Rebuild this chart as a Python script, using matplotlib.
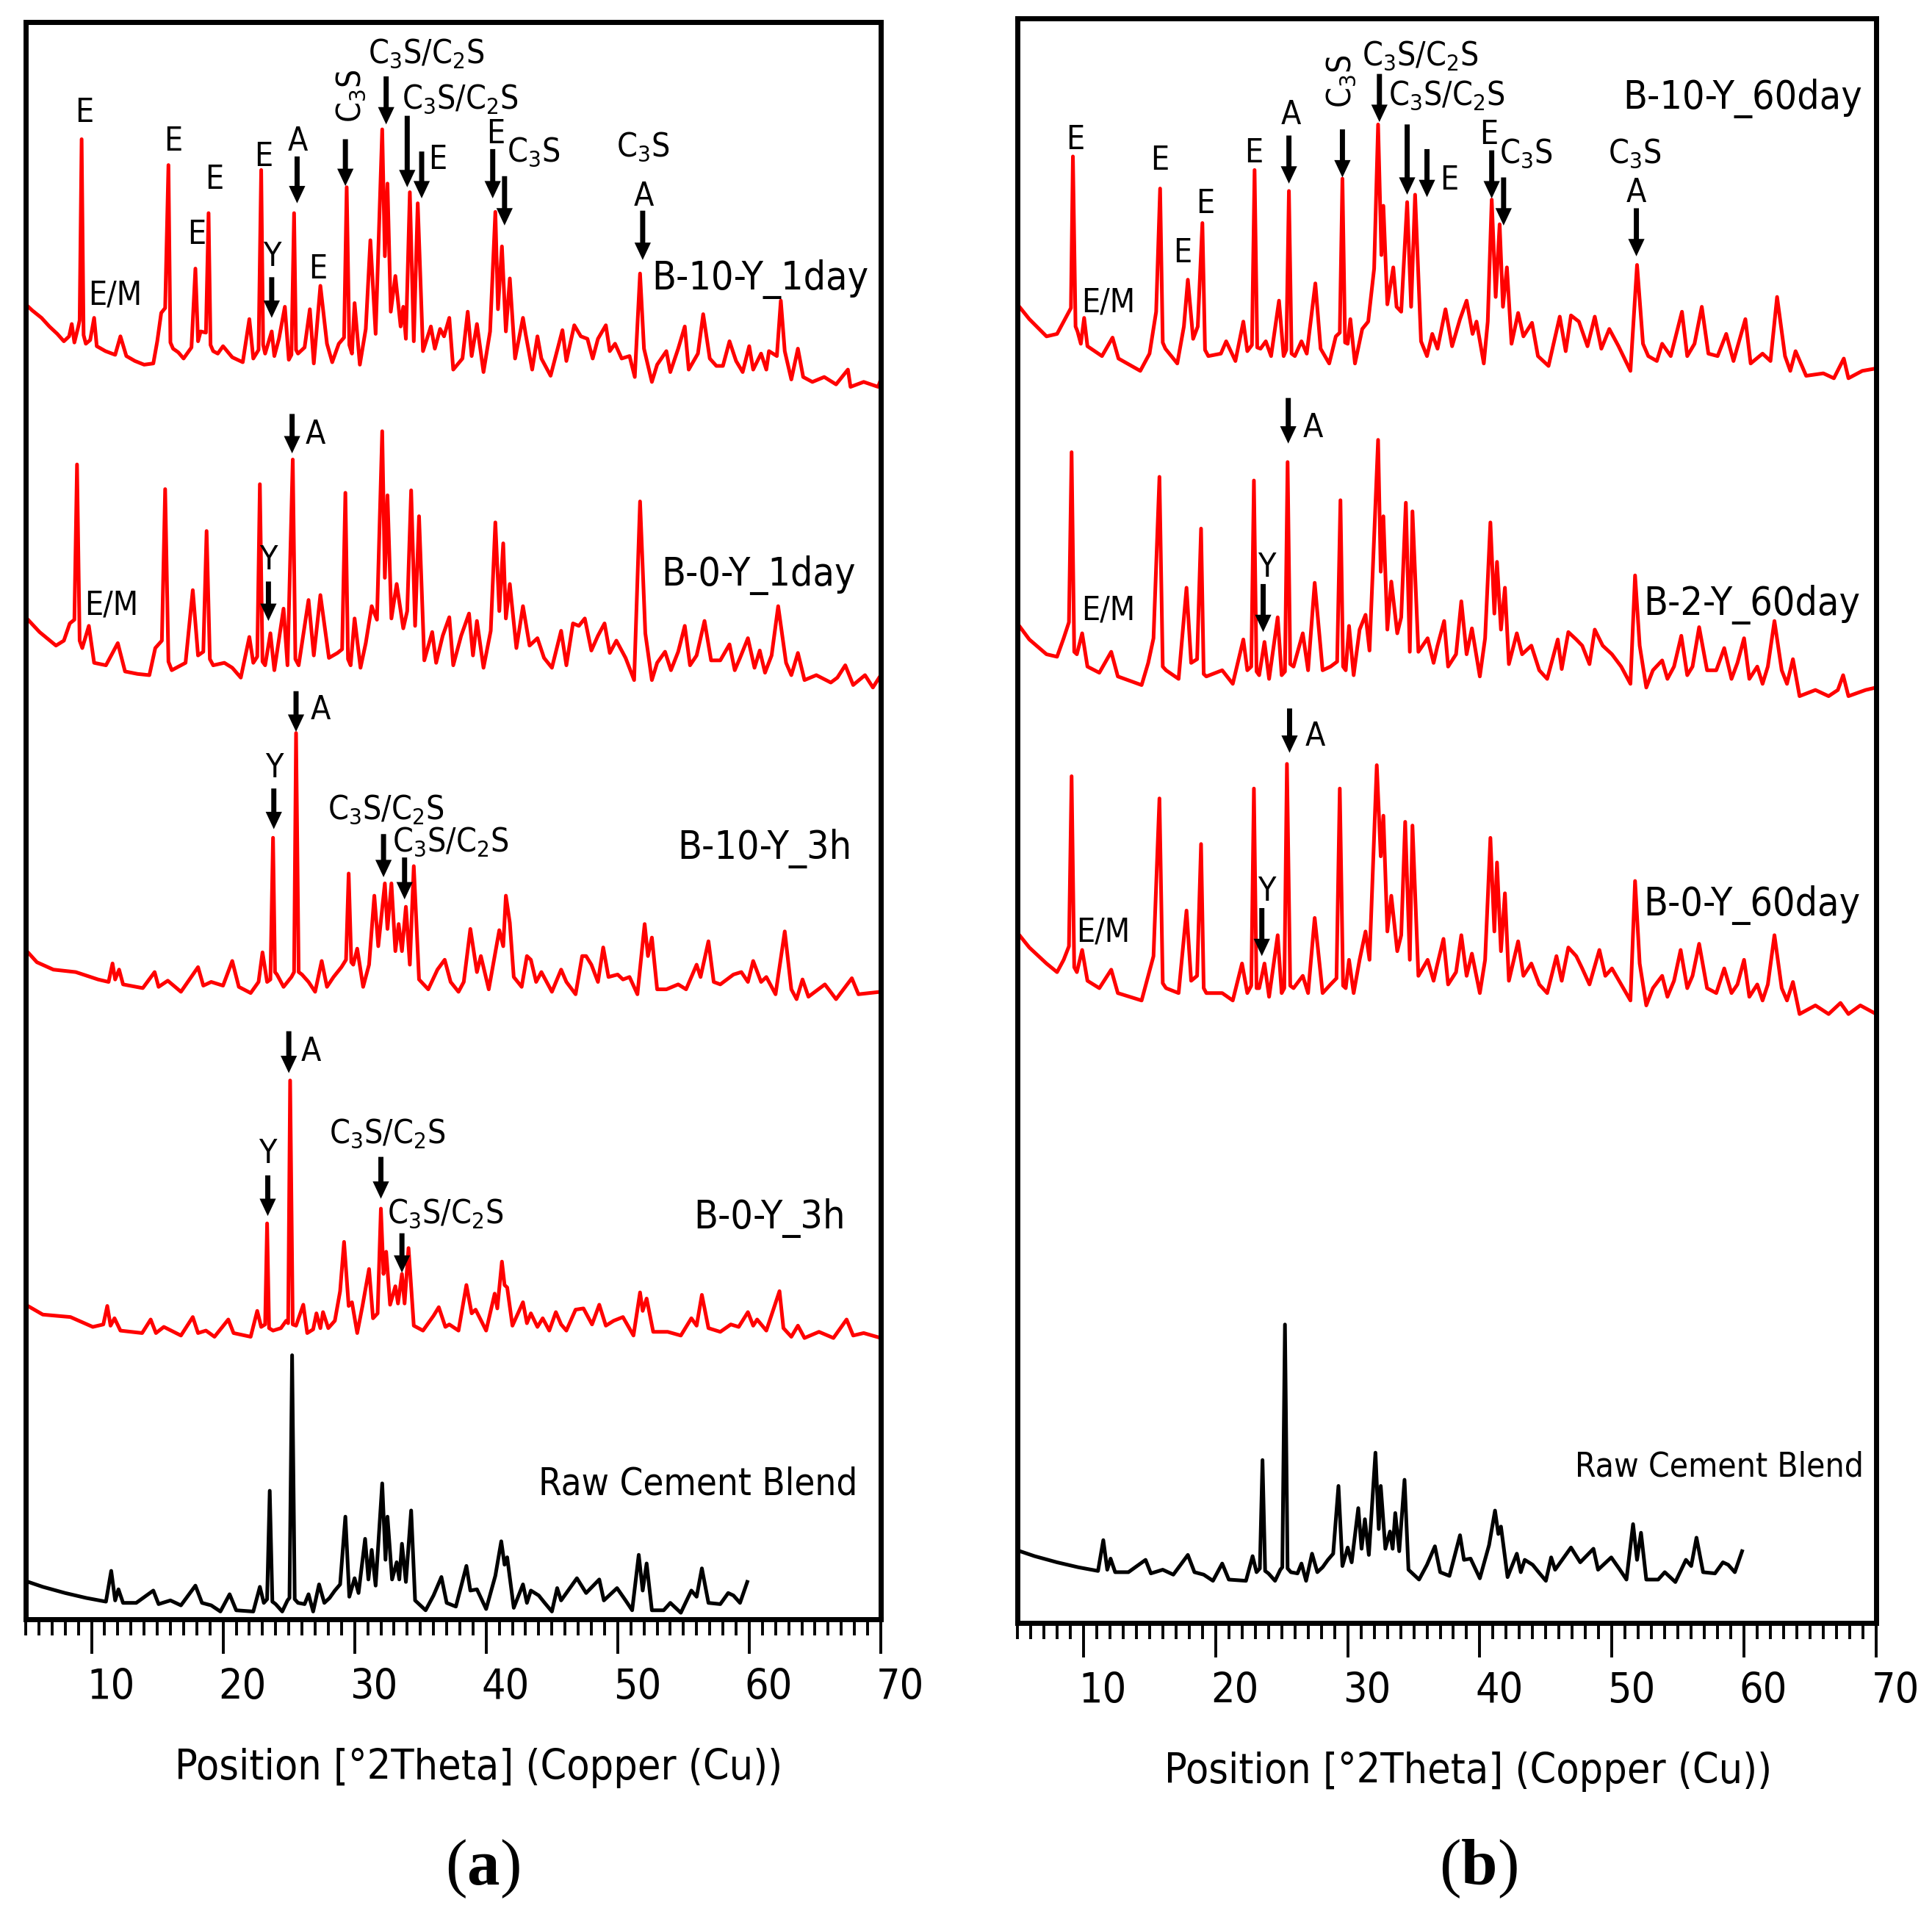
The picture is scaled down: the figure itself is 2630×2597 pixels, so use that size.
import numpy as np
import matplotlib.pyplot as plt
from matplotlib import font_manager

# Fonts -----------------------------------------------------------------------------
has_cond = any(f.name == 'DejaVu Sans' and 'condensed' in str(f.stretch)
               for f in font_manager.fontManager.ttflist)
if has_cond:
    plt.rcParams['font.family'] = 'DejaVu Sans'
    plt.rcParams['font.stretch'] = 'condensed'
    math_rm = 'DejaVu Sans:stretch=condensed'
else:
    plt.rcParams['font.family'] = 'Liberation Sans'
    math_rm = 'Liberation Sans'
plt.rcParams['mathtext.fontset'] = 'custom'
plt.rcParams['mathtext.rm'] = math_rm
plt.rcParams['mathtext.it'] = math_rm
plt.rcParams['mathtext.bf'] = 'Liberation Serif:bold'

# Data: (2theta, intensity) ------------------------------------------------------------
a1 = [(5.0,73),(5.5,68),(6.2,62),(6.8,55),(7.4,49),(7.9,43),(8.3,47),(8.5,57),(8.7,42),(9.0,55),(9.1,60),
      (9.25,207),(9.4,48),(9.57,41),(9.9,44),(10.2,62),(10.4,39),(11.06,35),(11.8,32),(12.2,47),(12.65,31),
      (13.3,27),(14.0,24),(14.7,25),(15.0,43),(15.3,66),(15.6,70),(15.85,186),(16.0,42),(16.2,37),(16.6,34),
      (17.0,29),(17.6,38),(17.9,102),(18.1,43),(18.3,51),(18.7,50),(18.9,147),(19.05,40),(19.25,35),(19.6,33),
      (20.0,39),(20.7,30),(21.5,26),(22.0,61),(22.3,29),(22.7,36),(22.9,182),(23.05,40),(23.2,33),(23.7,51),
      (23.9,31),(24.25,45),(24.7,71),(25.0,28),(25.2,32),(25.4,147),(25.55,36),(25.7,33),(26.2,38),(26.6,69),
      (26.9,25),(27.4,88),(27.9,41),(28.3,26),(28.8,41),(29.2,46),(29.4,168),(29.6,40),(29.8,33),(30.0,74),
      (30.4,24),(30.85,53),(31.2,125),(31.6,49),(32.1,215),(32.3,112),(32.5,171),(32.75,67),(33.1,96),
      (33.5,55),(33.7,71),(33.9,45),(34.2,164),(34.5,43),(34.8,155),(35.2,35),(35.8,55),(36.1,37),(36.5,53),
      (36.8,47),(37.2,62),(37.5,20),(38.2,29),(38.6,67),(38.9,31),(39.3,57),(39.8,18),(40.3,51),(40.7,148),
      (40.9,69),(41.2,120),(41.5,51),(41.8,94),(42.2,29),(42.8,62),(43.0,49),(43.5,20),(43.9,47),(44.2,29),
      (44.9,15),(45.8,52),(46.1,27),(46.7,56),(47.2,47),(47.7,45),(48.1,29),(48.5,45),(49.1,56),(49.4,35),
      (49.8,41),(50.3,29),(50.9,31),(51.3,14),(51.7,98),(52.0,37),(52.6,10),(53.0,24),(53.7,35),(54.0,18),
      (54.6,37),(55.1,55),(55.4,20),(56.1,33),(56.5,65),(57.0,29),(57.5,23),(58.0,23),(58.5,43),(59.0,27),
      (59.5,18),(60.0,39),(60.3,20),(60.9,33),(61.3,20),(61.5,35),(62.1,31),(62.4,76),(62.7,35),(63.2,12),
      (63.7,37),(64.1,14),(64.8,10),(65.7,14),(66.6,8),(67.5,20),(67.7,6),(68.7,10),(69.8,6),(70.0,12)]

a2 = [(5.0,64),(6.05,52),(7.3,41),(7.9,45),(8.35,59),(8.7,62),(8.9,188),(9.1,45),(9.3,39),(9.8,57),(10.2,27),
      (11.1,25),(12.0,43),(12.55,20),(13.5,18),(14.4,17),(14.85,39),(15.35,45),(15.6,168),(15.85,28),(16.1,21),
      (17.15,27),(17.7,86),(18.1,33),(18.5,36),(18.75,134),(19.0,30),(19.25,25),(20.1,27),(20.7,23),(21.35,15),
      (22.0,48),(22.3,27),(22.6,32),(22.8,172),(23.0,28),(23.2,25),(23.6,51),(23.9,21),(24.6,71),(24.9,25),
      (25.3,192),(25.5,30),(25.75,25),(26.5,78),(26.9,33),(27.4,82),(28.05,31),(28.7,35),(29.05,38),(29.3,165),
      (29.5,30),(29.7,25),(30.0,63),(30.45,23),(30.85,43),(31.3,73),(31.7,62),(32.1,215),(32.3,96),(32.5,163),
      (32.8,63),(33.2,91),(33.7,55),(34.0,69),(34.3,167),(34.6,57),(34.9,146),(35.3,29),(35.9,52),(36.2,27),
      (36.7,49),(37.2,64),(37.5,25),(38.1,49),(38.7,67),(39.0,33),(39.3,61),(39.8,23),(40.35,53),(40.7,141),
      (41.0,69),(41.3,124),(41.5,63),(41.8,91),(42.3,39),(42.8,73),(43.3,41),(43.9,47),(44.4,31),(45.0,23),
      (45.7,53),(46.1,25),(46.6,59),(47.05,57),(47.5,63),(48.0,37),(48.5,49),(49.0,59),(49.4,35),(49.9,45),
      (50.6,31),(51.25,13),(51.7,158),(52.1,51),(52.6,13),(53.0,27),(53.6,36),(54.05,21),(54.6,36),(55.1,57),
      (55.5,25),(56.0,33),(56.6,61),(57.1,29),(57.8,29),(58.5,42),(58.9,21),(59.3,31),(59.9,47),(60.4,23),
      (60.8,37),(61.2,19),(61.7,33),(62.2,73),(62.8,27),(63.2,17),(63.7,35),(64.2,13),(65.1,17),(66.2,11),
      (66.7,15),(67.3,25),(67.9,9),(68.8,17),(69.4,7),(70.0,17)]

a3 = [(5.0,44),(5.85,34),(7.1,28),(8.8,26),(10.5,20),(11.3,18),(11.6,33),(11.8,20),(12.1,28),(12.4,16),
      (13.9,13),(14.8,26),(15.1,14),(15.8,19),(16.8,10),(18.1,30),(18.5,15),(19.1,18),(20.0,15),(20.7,35),
      (21.2,14),(22.1,9),(22.7,18),(23.0,42),(23.35,18),(23.6,20),(23.8,135),(23.95,26),(24.1,24),(24.6,14),
      (25.2,22),(25.4,26),(25.55,220),(25.75,26),(26.0,24),(26.5,18),(27.0,10),(27.5,35),(27.9,14),(28.4,22),
      (29.0,30),(29.35,36),(29.55,106),(29.75,34),(29.9,32),(30.2,45),(30.65,14),(31.1,32),(31.5,88),(31.8,47),
      (32.3,98),(32.5,61),(32.8,98),(33.1,43),(33.35,65),(33.6,43),(33.9,79),(34.2,32),(34.5,112),(34.9,20),
      (35.6,12),(36.3,28),(36.85,36),(37.3,18),(37.9,10),(38.3,18),(38.8,61),(39.3,26),(39.6,39),(40.2,12),
      (41.0,60),(41.3,47),(41.5,88),(41.8,66),(42.1,22),(42.7,14),(43.1,39),(43.4,36),(43.8,18),(44.2,26),
      (45.0,10),(45.7,28),(46.1,18),(46.8,8),(47.3,39),(47.6,39),(48.0,32),(48.5,18),(48.9,46),(49.3,22),
      (50.0,24),(50.4,20),(50.9,22),(51.5,8),(52.05,65),(52.3,39),(52.6,54),(53.0,12),(53.7,12),(54.6,16),
      (55.2,12),(56.0,32),(56.3,22),(56.9,51),(57.3,18),(57.8,16),(58.8,24),(59.4,26),(59.9,18),(60.3,35),
      (60.9,18),(61.3,22),(62.0,8),(62.7,59),(63.2,12),(63.6,4),(64.05,20),(64.5,6),(65.75,16),(66.6,4),
      (67.8,21),(68.3,8),(70.0,10)]

a4 = [(5.0,31),(6.3,23),(8.4,21),(10.1,13),(10.9,15),(11.2,30),(11.45,14),(11.75,20),(12.2,10),(13.85,8),
      (14.5,19),(14.9,8),(15.5,13),(16.8,6),(17.7,21),(18.1,8),(18.7,10),(19.35,5),(20.4,19),(20.8,8),(22.1,5),
      (22.6,26),(22.9,13),(23.2,15),(23.35,97),(23.5,12),(23.8,10),(24.4,12),(24.8,18),(24.95,16),(25.1,213),
      (25.3,15),(25.55,14),(26.1,31),(26.4,8),(26.85,11),(27.1,24),(27.4,12),(27.6,25),(28.0,12),(28.5,18),
      (28.9,42),(29.2,82),(29.55,30),(29.8,33),(30.2,8),(30.6,30),(31.1,60),(31.4,20),(31.75,24),(32.0,109),
      (32.2,56),(32.4,74),(32.7,31),(33.1,46),(33.3,32),(33.6,56),(33.8,32),(34.1,77),(34.5,14),(35.2,10),
      (36.0,22),(36.4,29),(36.9,13),(37.2,15),(37.9,10),(38.5,47),(38.9,24),(39.2,27),(40.0,10),(40.65,40),
      (40.85,28),(41.2,66),(41.4,47),(41.6,45),(42.0,14),(42.8,33),(43.1,16),(43.4,24),(43.9,13),(44.3,20),
      (44.8,10),(45.3,25),(45.7,15),(46.1,10),(46.8,27),(47.4,28),(48.05,15),(48.6,31),(49.1,14),(49.7,18),
      (50.4,21),(51.2,6),(51.7,41),(51.9,26),(52.2,36),(52.7,9),(53.8,9),(54.8,6),(55.6,20),(56.0,14),(56.4,39),
      (56.9,12),(57.8,9),(58.6,15),(59.2,13),(59.9,25),(60.3,14),(60.6,19),(61.3,10),(62.3,42),(62.6,12),
      (63.2,5),(63.7,14),(64.2,4),(65.3,9),(66.4,4),(67.4,19),(67.9,6),(68.7,8),(70.0,4)]

raw = [(5.0,29),(5.2,28),(6.3,24),(8.0,19),(9.6,15),(11.1,12),(11.5,37),(11.8,13),(12.05,22),(12.4,11),
       (13.4,11),(14.7,21),(15.1,10),(16.0,13),(16.8,9),(17.9,25),(18.4,11),(19.1,9),(19.8,4),(20.5,18),
       (21.0,5),(22.3,4),(22.8,24),(23.1,11),(23.35,14),(23.55,102),(23.75,12),(24.0,10),(24.5,4),(24.9,13),
       (25.05,15),(25.25,212),(25.45,14),(25.7,11),(26.2,10),(26.5,18),(26.85,4),(27.3,26),(27.7,11),(28.1,15),
       (28.5,21),(28.9,26),(29.3,81),(29.6,16),(30.0,31),(30.3,19),(30.8,63),(31.05,30),(31.3,54),(31.6,25),
       (32.1,108),(32.35,46),(32.5,81),(32.85,30),(33.2,44),(33.4,30),(33.6,59),(33.9,28),(34.3,86),(34.6,13),
       (35.4,5),(36.0,17),(36.6,32),(37.0,11),(37.7,8),(38.5,41),(38.8,21),(39.3,22),(40.0,6),(40.7,33),
       (41.15,61),(41.4,42),(41.6,48),(42.1,7),(42.8,26),(43.1,11),(43.4,21),(44.0,17),(44.45,11),(45.0,4),
       (45.4,23),(45.7,13),(46.9,31),(47.6,19),(48.6,30),(48.95,13),(49.95,23),(50.6,13),(51.1,5),(51.6,50),
       (51.9,21),(52.2,43),(52.6,5),(53.5,5),(54.0,11),(54.8,3),(55.6,21),(56.0,16),(56.4,39),(56.9,11),
       (57.8,10),(58.4,19),(58.8,17),(59.3,11),(59.85,28)]

b1 = [(5.0,73),(5.9,61),(7.2,47),(8.0,49),(8.5,59),(9.05,70),(9.2,193),(9.4,55),(9.55,51),(9.8,41),(10.05,62),
      (10.3,39),(11.4,31),(12.2,46),(12.65,29),(14.3,19),(15.0,33),(15.5,67),(15.8,167),(16.0,42),(16.2,37),
      (17.1,25),(17.6,55),(17.9,93),(18.3,45),(18.65,55),(19.0,139),(19.2,36),(19.45,31),(20.4,33),(20.8,43),
      (21.5,27),(22.1,59),(22.4,35),(22.75,40),(22.95,182),(23.15,38),(23.4,37),(23.8,43),(24.2,31),(24.8,76),
      (25.15,31),(25.35,36),(25.55,165),(25.75,33),(26.0,31),(26.5,43),(26.9,33),(27.55,90),(27.95,37),
      (28.6,25),(29.1,47),(29.4,50),(29.6,175),(29.8,42),(30.0,41),(30.2,61),(30.55,25),(31.1,53),(31.55,59),
      (32.0,102),(32.3,219),(32.55,113),(32.7,153),(33.0,73),(33.45,103),(33.7,71),(34.05,67),(34.5,156),
      (34.8,71),(35.1,162),(35.55,43),(36.0,31),(36.4,49),(36.8,37),(37.4,69),(37.9,39),(38.5,61),(39.0,76),
      (39.45,49),(39.75,59),(40.3,25),(40.6,59),(40.9,158),(41.2,79),(41.5,138),(41.75,71),(42.05,103),
      (42.4,41),(42.9,66),(43.3,47),(43.95,58),(44.4,31),(45.2,23),(46.05,63),(46.5,35),(46.9,64),(47.5,59),
      (48.15,39),(48.7,63),(49.2,37),(49.8,53),(50.5,39),(51.4,19),(51.9,105),(52.35,41),(52.75,31),(53.4,27),
      (53.8,41),(54.45,31),(55.3,67),(55.7,31),(56.25,41),(56.8,71),(57.3,33),(58.0,31),(58.65,49),(59.2,27),
      (60.1,61),(60.5,25),(61.4,33),(62.0,27),(62.5,79),(63.1,31),(63.5,19),(63.9,35),(64.7,15),(66.0,17),
      (66.8,13),(67.55,29),(67.9,13),(68.95,19),(70.0,21)]

b2 = [(5.0,59),(5.9,46),(7.2,34),(8.0,32),(8.5,47),(8.9,60),(9.1,198),(9.3,36),(9.5,34),(9.9,51),(10.3,24),
      (11.2,19),(12.1,36),(12.6,16),(14.4,9),(14.9,27),(15.3,47),(15.75,178),(16.0,24),(16.25,21),(17.2,14),
      (17.8,88),(18.15,27),(18.6,30),(18.9,136),(19.1,18),(19.3,16),(20.5,21),(21.3,10),(22.1,46),(22.4,21),
      (22.7,24),(22.9,175),(23.1,20),(23.3,17),(23.7,44),(24.05,14),(24.7,64),(25.0,17),(25.25,20),(25.45,190),
      (25.65,26),(25.9,24),(26.6,51),(27.0,21),(27.5,92),(28.1,21),(28.7,24),(29.2,28),(29.45,159),(29.65,24),
      (29.85,21),(30.1,57),(30.45,17),(30.9,54),(31.35,66),(31.65,37),(32.3,208),(32.5,101),(32.7,146),
      (33.0,54),(33.3,93),(33.75,51),(34.05,64),(34.4,157),(34.7,36),(34.9,150),(35.35,36),(36.05,47),
      (36.5,27),(36.8,41),(37.3,61),(37.6,24),(38.2,34),(38.6,77),(39.0,34),(39.4,55),(40.0,16),(40.4,47),
      (40.8,141),(41.1,67),(41.3,109),(41.6,54),(41.9,88),(42.2,26),(42.8,51),(43.2,34),(43.9,41),(44.5,21),
      (45.1,14),(45.9,46),(46.2,22),(46.7,52),(47.3,46),(47.75,41),(48.3,26),(48.7,54),(49.3,41),(50.0,34),
      (50.7,24),(51.4,10),(51.75,98),(52.1,41),(52.6,7),(53.1,21),(53.8,29),(54.2,14),(54.7,24),(55.25,49),
      (55.7,17),(56.1,24),(56.6,56),(57.2,21),(57.9,21),(58.5,39),(59.05,14),(59.5,27),(60.0,47),(60.4,14),
      (61.0,24),(61.4,10),(61.8,24),(62.3,61),(62.85,21),(63.25,10),(63.7,30),(64.2,0),(65.4,5),(66.4,0),
      (67.1,5),(67.5,17),(67.9,0),(69.2,5),(70.0,7)]

b3 = [(5.0,73),(5.9,61),(7.2,48),(8.0,41),(8.5,51),(8.9,62),(9.1,200),(9.3,45),(9.5,41),(9.9,59),(10.3,34),
      (11.2,28),(12.1,43),(12.6,24),(14.4,18),(14.9,38),(15.3,54),(15.75,182),(16.0,32),(16.25,28),(17.2,24),
      (17.8,91),(18.15,34),(18.6,38),(18.9,145),(19.1,28),(19.3,24),(20.5,24),(21.3,18),(22.0,48),(22.4,24),
      (22.7,30),(22.9,190),(23.1,28),(23.3,28),(23.7,48),(24.05,21),(24.7,71),(25.0,24),(25.2,28),(25.4,210),
      (25.65,30),(25.9,28),(26.6,38),(27.0,24),(27.5,85),(28.1,24),(28.7,31),(29.15,36),(29.4,190),(29.65,30),
      (29.85,28),(30.1,51),(30.45,24),(30.9,51),(31.35,74),(31.65,51),(32.2,209),(32.5,135),(32.7,168),
      (33.0,74),(33.3,103),(33.75,58),(34.05,71),(34.35,163),(34.7,51),(34.9,160),(35.35,38),(36.05,51),
      (36.5,34),(36.8,48),(37.25,68),(37.6,31),(38.2,41),(38.6,71),(39.0,38),(39.4,56),(40.0,24),(40.4,51),
      (40.8,150),(41.1,74),(41.3,130),(41.6,58),(41.9,105),(42.2,34),(42.9,66),(43.3,38),(43.9,48),(44.5,31),
      (45.1,24),(45.8,54),(46.2,34),(46.7,61),(47.3,54),(47.75,44),(48.3,31),(49.05,59),(49.5,38),(50.0,44),
      (50.7,31),(51.4,18),(51.75,115),(52.1,48),(52.6,14),(53.1,28),(53.8,38),(54.2,21),(54.7,34),(55.2,59),
      (55.7,28),(56.1,38),(56.6,64),(57.2,28),(57.9,24),(58.5,44),(59.05,24),(59.5,31),(60.0,51),(60.4,21),
      (61.0,31),(61.4,18),(61.8,31),(62.3,71),(62.85,28),(63.25,18),(63.7,33),(64.2,7),(65.4,14),(66.4,7),
      (67.3,16),(67.9,7),(68.8,14),(70.0,7)]

# sample names and their stacking offsets (same intensity units as the traces)
names_a = ['B-10-Y_1day', 'B-0-Y_1day', 'B-10-Y_3h', 'B-0-Y_3h', 'Raw Cement Blend']
offsets_a = [994.3, 749.3, 499.3, 224.3, 2.3]
names_b = ['B-10-Y_60day', 'B-2-Y_60day', 'B-0-Y_60day', 'Raw Cement Blend']
offsets_b = [997.2, 752.2, 487.2, 30.2]

# name label anchors (left x, intensity above trace zero)
name_pos_a = [(52.6, 85), (53.3, 90), (54.55, 118), (55.8, 93), (44.0, 99)]
name_pos_b = [(50.85, 232), (52.4, 66), (52.4, 87), (47.2, 89)]

C3S = r'C$_\mathrm{3}$S'
C3S_C2S = r'C$_\mathrm{3}$S/C$_\mathrm{2}$S'

# phase labels: (text, 2theta, intensity)
lab_a1 = [('E', 9.46, 221), ('E/M', 11.8, 73), ('E', 16.2, 198), ('E', 18.0, 122), ('E', 19.35, 167),
          ('E', 23.1, 185), ('A', 25.7, 198), ('Y', 23.7, 104), ('E', 27.2, 94), (C3S_C2S, 35.46, 269),
          (C3S_C2S, 38.0, 232), ('E', 36.3, 183), ('E', 40.7, 204), (C3S, 43.6, 189), (C3S, 51.9, 193),
          ('A', 52.0, 153)]
lab_a2 = [('A', 27.0, 205), ('Y', 23.45, 103), ('E/M', 11.5, 66)]
lab_a3 = [('A', 27.4, 231), ('Y', 23.9, 184), (C3S_C2S, 32.4, 150), (C3S_C2S, 37.3, 124)]
lab_a4 = [('A', 26.7, 229), ('Y', 23.4, 146), (C3S_C2S, 32.5, 162), (C3S_C2S, 36.9, 97)]
lab_b1 = [('E', 9.37, 199), ('E/M', 11.9, 67), ('E', 15.8, 182), ('E', 17.5, 107), ('E', 19.2, 147),
          ('E', 22.9, 188), ('A', 25.7, 219), (C3S_C2S, 35.5, 267), (C3S_C2S, 37.5, 235), ('E', 37.7, 166),
          ('E', 40.7, 203), (C3S, 43.5, 188), (C3S, 51.7, 188), ('A', 51.85, 156)]
lab_b2 = [('A', 27.4, 210), ('Y', 23.85, 97), ('E/M', 11.9, 62)]
lab_b3 = [('A', 27.55, 225), ('Y', 23.85, 99), ('E/M', 11.5, 66)]
rot_a1 = (29.7, 242)
rot_b1 = (29.5, 254)

# arrows: (2theta, tail intensity, tip intensity)
arr_a1 = [(23.7, 95, 62), (25.63, 193, 155), (29.3, 207, 169), (32.4, 258, 219), (34.0, 226, 168),
          (35.1, 197, 159), (40.5, 199, 159), (41.4, 177, 137), (51.9, 149, 109)]
arr_a2 = [(25.25, 229, 197), (23.45, 93, 61)]
arr_a3 = [(25.55, 254, 221), (23.86, 175, 142), (32.2, 138, 103), (33.8, 119, 85)]
arr_a4 = [(25.0, 253, 219), (23.4, 136, 103), (32.0, 151, 117), (33.6, 89, 57)]
arr_b1 = [(25.55, 210, 171), (29.6, 215, 176), (32.4, 260, 221), (34.5, 219, 162), (36.0, 199, 160),
          (40.9, 198, 159), (41.8, 176, 137), (51.85, 151, 112)]
arr_b2 = [(25.5, 242, 205), (23.6, 91, 52)]
arr_b3 = [(25.6, 255, 219), (23.5, 93, 54)]

major_ticks = [10, 20, 30, 40, 50, 60, 70]
minor_ticks = list(range(5, 71))
xlabel = 'Position [°2Theta] (Copper (Cu))'

# Drawing ---------------------------------------------------------------------------
RED = '#ff0000'
PEAK_FS = 32
NAME_FS = 38.5
RAW_FS_A = 36.5
RAW_FS_B = 33
ARROW = 'simple,head_length=17,head_width=16,tail_width=5'


def draw_trace(ax, pts, off, color):
    x, y = np.array(pts).T
    ax.plot(x, y + off, color=color, lw=3.6, solid_joinstyle='round', zorder=2)


def draw_labels(ax, labs, off):
    for txt, x, i in labs:
        ax.text(x, off + i, txt, ha='center', va='baseline', fontsize=PEAK_FS, zorder=4)


def draw_arrows(ax, arrs, off):
    for x, tail, tip in arrs:
        ax.annotate('', xy=(x, off + tip), xytext=(x, off + tail),
                    arrowprops=dict(arrowstyle=ARROW, mutation_scale=1, fc='black', ec='none',
                                    shrinkA=0, shrinkB=0), zorder=4)


def setup_axes(ax, ytop, xlab_x):
    ax.set_xlim(5, 70)
    ax.set_ylim(0, ytop)
    ax.set_yticks([])
    ax.set_xticks(major_ticks)
    ax.set_xticks(minor_ticks, minor=True)
    ax.tick_params(axis='x', which='major', direction='out', length=34, width=2.8, labelbottom=False)
    ax.tick_params(axis='x', which='minor', direction='out', length=16, width=2.8)
    for s in ax.spines.values():
        s.set_linewidth(5)
    for t in major_ticks:
        ax.annotate(str(t), xy=(t, 0), xycoords=('data', 'axes fraction'), xytext=(19, -47.5),
                    textcoords='offset points', ha='center', va='top', fontsize=41,
                    annotation_clip=False)
    ax.annotate(xlabel, xy=(xlab_x, 0), xycoords='axes fraction', xytext=(0, -157),
                textcoords='offset points', ha='center', va='baseline', fontsize=41,
                annotation_clip=False)


fig = plt.figure(figsize=(26.3, 25.97), dpi=100)
ax_a = fig.add_axes([35 / 2630, 1 - 2204 / 2597, 1164 / 2630, 2174 / 2597])
ax_b = fig.add_axes([1385 / 2630, 1 - 2209 / 2597, 1169 / 2630, 2184 / 2597])

setup_axes(ax_a, 1296.4, 0.53)
setup_axes(ax_b, 1302.3, 0.525)

# panel (a)
for pts, off in zip([a1, a2, a3, a4], offsets_a[:4]):
    draw_trace(ax_a, pts, off, RED)
draw_trace(ax_a, raw, offsets_a[4], 'black')
for labs, off in zip([lab_a1, lab_a2, lab_a3, lab_a4], offsets_a):
    draw_labels(ax_a, labs, off)
for arrs, off in zip([arr_a1, arr_a2, arr_a3, arr_a4], offsets_a):
    draw_arrows(ax_a, arrs, off)
ax_a.text(rot_a1[0], offsets_a[0] + rot_a1[1], C3S, rotation=90, ha='center', va='center',
          fontsize=PEAK_FS, zorder=4)
for k, (name, (x, i), off) in enumerate(zip(names_a, name_pos_a, offsets_a)):
    fs = RAW_FS_A if k == 4 else NAME_FS
    ax_a.text(x, off + i, name, ha='left', va='baseline', fontsize=fs, zorder=4)

# panel (b)
for pts, off in zip([b1, b2, b3], offsets_b[:3]):
    draw_trace(ax_b, pts, off, RED)
draw_trace(ax_b, raw, offsets_b[3], 'black')
for labs, off in zip([lab_b1, lab_b2, lab_b3], offsets_b):
    draw_labels(ax_b, labs, off)
for arrs, off in zip([arr_b1, arr_b2, arr_b3], offsets_b):
    draw_arrows(ax_b, arrs, off)
ax_b.text(rot_b1[0], offsets_b[0] + rot_b1[1], C3S, rotation=90, ha='center', va='center',
          fontsize=PEAK_FS, zorder=4)
for k, (name, (x, i), off) in enumerate(zip(names_b, name_pos_b, offsets_b)):
    fs = RAW_FS_B if k == 3 else NAME_FS
    ax_b.text(x, off + i, name, ha='left', va='baseline', fontsize=fs, zorder=4)

# panel letters
fig.text(657 / 2630, 1 - 2565 / 2597, r'($\mathbf{a}$)', family='Liberation Serif',
         fontsize=64, ha='center', va='baseline')
fig.text(2012 / 2630, 1 - 2565 / 2597, r'($\mathbf{b}$)', family='Liberation Serif',
         fontsize=64, ha='center', va='baseline')

fig.savefig('out.png', dpi=100)
